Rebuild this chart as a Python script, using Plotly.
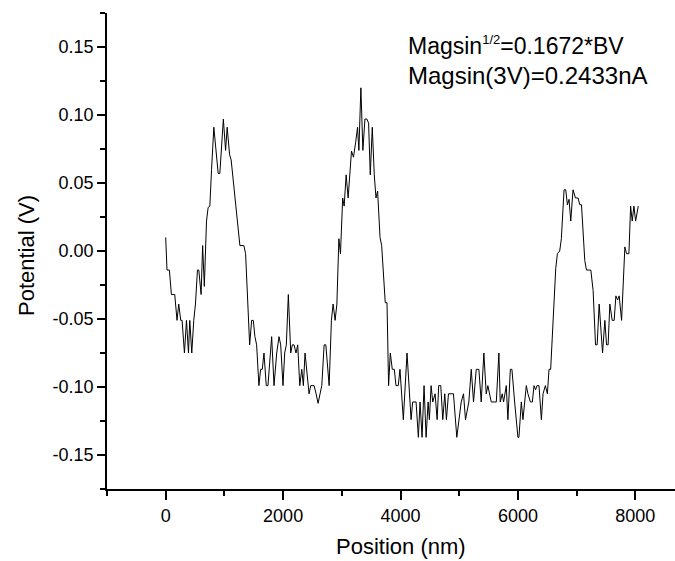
import plotly.graph_objects as go

position_nm = [
    0, 22, 63, 97, 154, 193, 222, 256, 279, 319, 354, 388, 410, 444, 478, 507, 541, 564, 603, 629,
    658, 695, 723, 752, 781, 820, 894, 922, 982, 1020, 1047, 1088, 1115, 1264, 1332, 1361,
    1430, 1464, 1492, 1520, 1549, 1588, 1617, 1645, 1674, 1713, 1742, 1805, 1845, 1891, 1930, 1959,
    1998, 2027, 2055, 2089, 2130, 2157, 2186, 2220, 2249, 2284, 2318, 2345, 2374, 2403, 2442, 2471,
    2499, 2528, 2562, 2596, 2659, 2699, 2728, 2784, 2823, 2852, 2886, 2916, 2950, 2977,
    3015, 3040, 3074, 3108, 3165, 3199, 3236, 3268, 3291, 3325, 3359, 3394, 3428, 3456, 3485, 3519,
    3553, 3582, 3610, 3651, 3679, 3740, 3770, 3797, 3826, 3860, 3894, 3923, 3962, 3991, 4048, 4082,
    4111, 4180, 4207, 4265, 4304, 4333, 4367, 4401, 4436, 4470, 4492, 4521, 4549, 4589, 4624, 4651,
    4686, 4720, 4754, 4782, 4817, 4902, 4959, 5034, 5073, 5107, 5164, 5205, 5244, 5290, 5335, 5375,
    5420, 5460, 5488, 5546, 5632, 5676, 5699, 5733, 5756, 5802, 5829, 5871, 5898, 5944, 6000, 6017,
    6058, 6086, 6143, 6171, 6212, 6246, 6274, 6302, 6325, 6359, 6400, 6428, 6468, 6502, 6530, 6558,
    6644, 6672, 6712, 6740, 6786, 6815, 6843, 6871, 6900, 6939, 6980, 7025, 7054, 7083, 7139, 7168,
    7242, 7281, 7322, 7350, 7384, 7442, 7481, 7510, 7537, 7566, 7606, 7640, 7669, 7698, 7725, 7766,
    7822, 7851, 7891, 7920, 7947, 7976, 8005, 8050,
]

potential_v = [
    0.010, -0.014, -0.014, -0.032, -0.032, -0.051, -0.039, -0.051, -0.051, -0.075, -0.051, -0.075,
    -0.051, -0.075, -0.051, -0.039, -0.014, -0.014, -0.032, 0.004,
    -0.026, 0.022, 0.032, 0.033, 0.060, 0.091, 0.057, 0.057, 0.097, 0.074, 0.091, 0.071, 0.067,
    0.004, 0.004, -0.002,
    -0.069, -0.051, -0.051, -0.063, -0.069, -0.099, -0.087, -0.087, -0.075, -0.099, -0.099, -0.063,
    -0.099, -0.075, -0.063, -0.069,
    -0.099, -0.075, -0.069, -0.032, -0.075, -0.069, -0.069, -0.075, -0.069, -0.099, -0.087, -0.099,
    -0.075, -0.087, -0.105, -0.099,
    -0.099, -0.099, -0.105, -0.112, -0.099, -0.069, -0.069, -0.099, -0.051, -0.039, -0.051, -0.039,
    0.009, -0.002,
    0.039, 0.033, 0.056, 0.039, 0.0735, 0.069, 0.080, 0.091, 0.074, 0.120, 0.074, 0.097, 0.097,
    0.094, 0.056, 0.091,
    0.056, 0.039, 0.044, 0.010, 0.004, -0.038, -0.038, -0.099, -0.075, -0.087, -0.087, -0.099,
    -0.099, -0.087, -0.124, -0.099,
    -0.075, -0.124, -0.111, -0.111, -0.137, -0.111, -0.137, -0.099, -0.137, -0.111, -0.124, -0.099,
    -0.111, -0.105, -0.124, -0.099,
    -0.099, -0.124, -0.105, -0.124, -0.105, -0.105, -0.137, -0.111, -0.105, -0.124, -0.111, -0.087,
    -0.111, -0.087, -0.087, -0.111,
    -0.075, -0.105, -0.099, -0.111, -0.111, -0.075, -0.111, -0.105, -0.111, -0.099, -0.124, -0.087,
    -0.087, -0.111, -0.137, -0.137,
    -0.111, -0.124, -0.099, -0.105, -0.111, -0.111, -0.099, -0.102, -0.099, -0.099, -0.124, -0.105,
    -0.099, -0.105, -0.087, -0.087,
    -0.013, -0.002, 0.000, 0.009, 0.045, 0.045, 0.034, 0.038, 0.022, 0.045, 0.039, 0.039, 0.034,
    0.034, -0.007, -0.014,
    -0.014, -0.029, -0.069, -0.069, -0.039, -0.075, -0.051, -0.069, -0.069, -0.039, -0.051, -0.051,
    -0.033, -0.036, -0.033, -0.051,
    0.003, -0.002, -0.002, 0.033, 0.022, 0.033, 0.022, 0.033,
]

x_tick_vals = [0, 2000, 4000, 6000, 8000]
y_tick_vals = [-0.15, -0.10, -0.05, 0.00, 0.05, 0.10, 0.15]
y_tick_text = ["-0.15", "-0.10", "-0.05", "0.00", "0.05", "0.10", "0.15"]

x_title = "Position (nm)"
y_title = "Potential (V)"
annotation_line1 = 'Magsin<sup><span style="font-size:13px">1/2</span></sup>=0.1672*BV'
annotation_line2 = "Magsin(3V)=0.2433nA"

FONT = "Liberation Sans, Arial, Helvetica, sans-serif"

W, H = 675, 561
L, R, T, B = 107, 675, 13, 489
pw, ph = R - L, B - T

def px_x(px):
    return (px - L) / pw

def px_y(py):
    return (B - py) / ph

fig = go.Figure()
fig.add_trace(go.Scatter(
    x=position_nm, y=potential_v, mode="lines",
    line=dict(color="black", width=1), showlegend=False,
))

fig.update_layout(
    width=W, height=H,
    margin=dict(l=L, r=W - R, t=T, b=H - B, autoexpand=False),
    paper_bgcolor="white", plot_bgcolor="white",
    font=dict(family=FONT, color="black", size=18),
    xaxis=dict(
        range=[-1000, 8676], automargin=False,
        tickmode="array", tickvals=x_tick_vals, ticktext=[str(v) for v in x_tick_vals],
        ticks="outside", ticklen=9, tickwidth=1.5, tickcolor="black",
        minor=dict(dtick=1000, tick0=-1000, ticks="outside", ticklen=5, tickwidth=1.5, tickcolor="black"),
        showline=True, linecolor="black", linewidth=1.8,
        showgrid=False, zeroline=False,
        tickfont=dict(size=18, family=FONT),
    ),
    yaxis=dict(
        range=[-0.175, 0.175], automargin=False,
        tickmode="array", tickvals=y_tick_vals, ticktext=y_tick_text,
        ticks="outside", ticklen=8, tickwidth=1.5, tickcolor="black",
        minor=dict(dtick=0.025, tick0=-0.175, ticks="outside", ticklen=5, tickwidth=1.5, tickcolor="black"),
        showline=True, linecolor="black", linewidth=1.8,
        showgrid=False, zeroline=False,
        tickfont=dict(size=18, family=FONT),
    ),
    annotations=[
        dict(
            text=annotation_line1,
            xref="paper", yref="paper", x=px_x(406), y=px_y(46),
            xanchor="left", yanchor="middle", align="left", showarrow=False,
            font=dict(size=23, family=FONT, color="black"),
        ),
        dict(
            text=annotation_line2,
            xref="paper", yref="paper", x=px_x(406), y=px_y(76),
            xanchor="left", yanchor="middle", align="left", showarrow=False,
            font=dict(size=24, family=FONT, color="black"),
        ),
        dict(
            text=x_title, xref="paper", yref="paper", x=px_x(401), y=px_y(546),
            xanchor="center", yanchor="middle", showarrow=False,
            font=dict(size=22, family=FONT, color="black"),
        ),
        dict(
            text=y_title, xref="paper", yref="paper", x=px_x(27), y=px_y(256),
            xanchor="center", yanchor="middle", textangle=-90, showarrow=False,
            font=dict(size=22, family=FONT, color="black"),
        ),
    ],
)

fig.write_html(
    "out.html",
    config={"displayModeBar": False},
    post_script="document.body.style.margin='0';",
)
